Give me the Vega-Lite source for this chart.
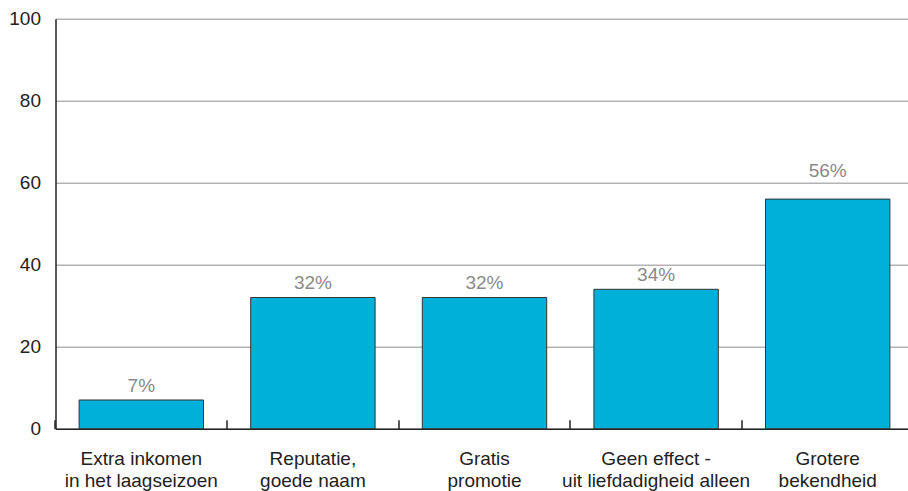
{
  "$schema": "https://vega.github.io/schema/vega-lite/v6.json",
  "width": 852.5,
  "height": 410,
  "autosize": {"type": "none"},
  "padding": {"left": 55.5, "top": 18.7, "right": 0, "bottom": 62.3},
  "background": "white",
  "config": {
    "view": {"stroke": null},
    "font": "Liberation Sans",
    "axis": {"labelFont": "Liberation Sans", "labelColor": "#222222", "labelFontSize": 19, "title": null}
  },
  "data": {
    "values": [
      {"categorie": "Extra inkomen\nin het laagseizoen", "procent": 7},
      {"categorie": "Reputatie,\ngoede naam", "procent": 32},
      {"categorie": "Gratis\npromotie", "procent": 32},
      {"categorie": "Geen effect -\nuit liefdadigheid alleen", "procent": 34},
      {"categorie": "Grotere\nbekendheid", "procent": 56}
    ]
  },
  "encoding": {
    "x": {
      "field": "categorie",
      "type": "nominal",
      "sort": null,
      "scale": {"range": [0, 858], "paddingInner": 0.275, "paddingOuter": 0.1375},
      "axis": {
        "bandPosition": -0.1897,
        "labelAngle": 0,
        "labelExpr": "split(datum.label, '\\n')",
        "labelLineHeight": 22,
        "labelLimit": 0,
        "labelPadding": 30,
        "labelBaseline": "top",
        "tickSize": -9,
        "tickColor": "#222222",
        "tickWidth": 1.5,
        "domainColor": "#222222",
        "domainWidth": 1.5,
        "grid": false
      }
    },
    "y": {
      "field": "procent",
      "type": "quantitative",
      "scale": {"domain": [0, 100]},
      "axis": {
        "values": [0, 20, 40, 60, 80, 100],
        "ticks": false,
        "labelPadding": 15,
        "domainColor": "#222222",
        "domainWidth": 1.5,
        "gridColor": "#b3b3b3",
        "gridWidth": 1.5
      }
    }
  },
  "layer": [
    {
      "mark": {"type": "bar", "color": "#00b0d8", "stroke": "#333333", "strokeWidth": 1}
    },
    {
      "mark": {
        "type": "text",
        "baseline": "alphabetic",
        "dy": {"expr": "datum.procent > 50 ? -22 : -8.5"},
        "fontSize": 19,
        "color": "#8a8a8a",
        "text": {"expr": "datum.procent + '%'"}
      }
    }
  ]
}
